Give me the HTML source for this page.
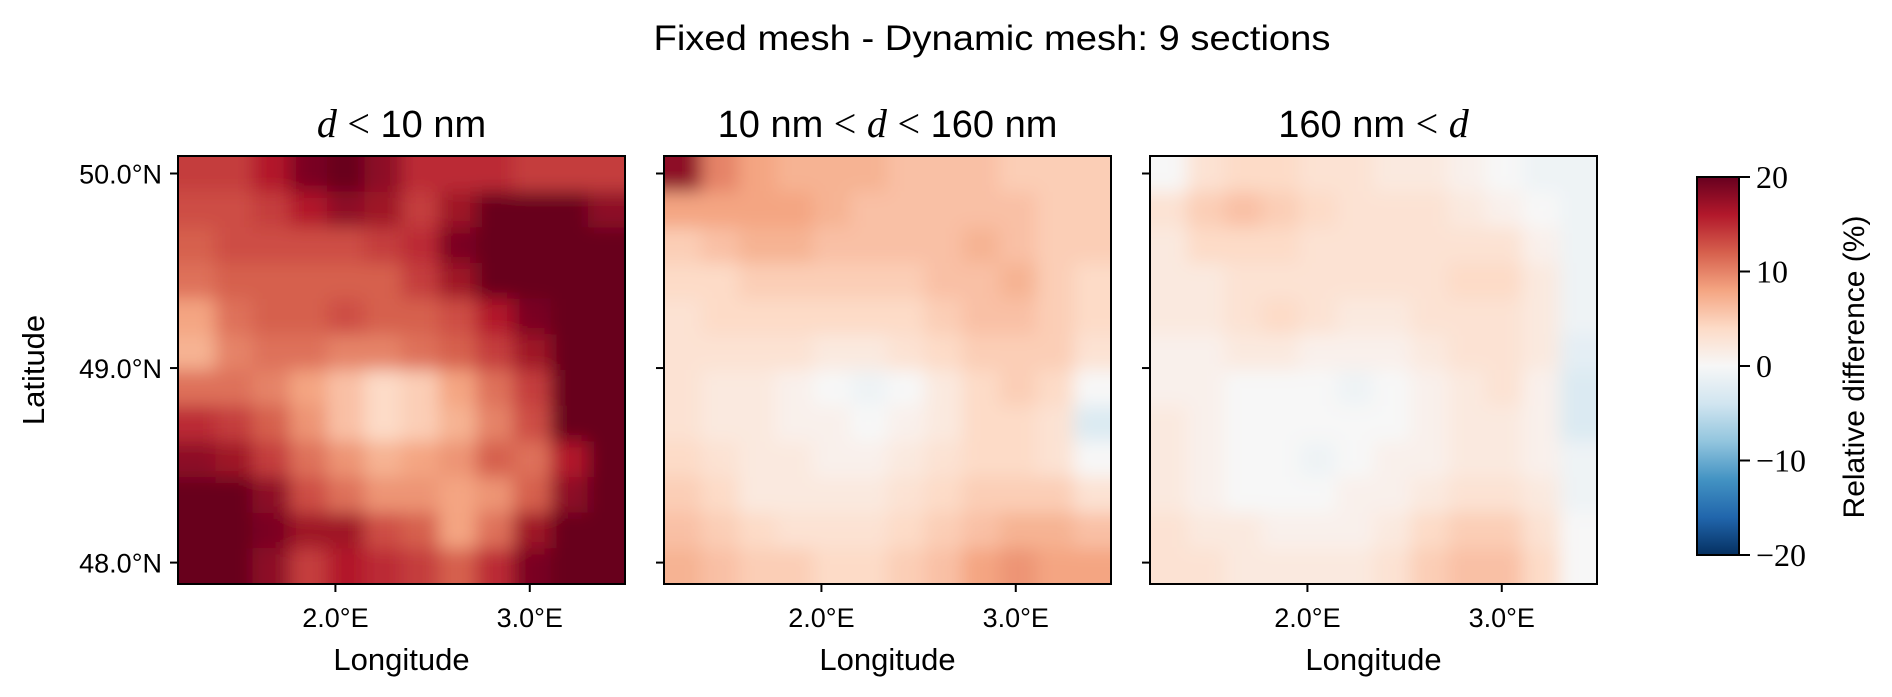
<!DOCTYPE html>
<html><head><meta charset="utf-8"><style>
html,body{margin:0;padding:0;background:#fff;}
svg{display:block;font-family:"Liberation Sans","DejaVu Sans",sans-serif;}
</style></head><body>
<svg id="fig" width="1892" height="697" viewBox="0 0 1892 697" xmlns="http://www.w3.org/2000/svg">
<defs>
<filter id="blur" x="-10%" y="-10%" width="120%" height="120%"><feGaussianBlur stdDeviation="9"/></filter>
<linearGradient id="cbgrad" x1="0" y1="1" x2="0" y2="0">
<stop offset="0" stop-color="#053061"/><stop offset="0.1" stop-color="#2166ac"/><stop offset="0.2" stop-color="#4393c3"/><stop offset="0.3" stop-color="#92c5de"/><stop offset="0.4" stop-color="#d1e5f0"/><stop offset="0.5" stop-color="#f7f7f7"/><stop offset="0.6" stop-color="#fddbc7"/><stop offset="0.7" stop-color="#f4a582"/><stop offset="0.8" stop-color="#d6604d"/><stop offset="0.9" stop-color="#b2182b"/><stop offset="1" stop-color="#67001f"/>
</linearGradient>
</defs>
<text x="992" y="50" text-anchor="middle" font-size="35" textLength="677" lengthAdjust="spacingAndGlyphs">Fixed mesh - Dynamic mesh: 9 sections</text>
<g id="panels"></g>
<g>
<rect x="1697" y="177" width="42" height="378" fill="url(#cbgrad)" stroke="#000" stroke-width="2"/>
<g id="cbticks"></g>
<text transform="translate(1864,367) rotate(-90)" text-anchor="middle" font-size="30">Relative difference (%)</text>
</g>
</svg>
<script>
const lonTicks = [2.0, 3.0];
const latTicks = [48.0, 49.0, 50.0];
const lonRange = [1.19, 3.49];
const latRange = [47.89, 50.09];
const cbTicks = [20, 10, 0, -10, -20];
const cbRange = [-20, 20];
const panelTitles = ["d < 10 nm", "10 nm < d < 160 nm", "160 nm < d"];
const gridSmall = [
[14,14,16,19,20,18,15,15,15,14,14,14],
[13,13,14,16,18,17,14,17,20,20,20,18],
[12,13,13,13,13,14,15,19,20,20,20,20],
[11,12,12,12,12,12,14,17,20,20,20,20],
[8,11,12,12,13,12,12,13,16,19,20,20],
[7,10,11,11,10,10,11,12,14,17,20,20],
[11,11,10,8,6,4,5,8,11,14,20,20],
[15,14,12,9,6,4,5,7,10,13,20,20],
[18,17,14,11,9,7,8,9,12,11,16,20],
[20,20,18,13,11,9,9,8,9,12,18,20],
[20,20,19,17,17,13,12,8,11,17,20,20],
[20,20,18,14,16,15,14,12,15,19,20,20]];
const gridMid = [
[18,10,8,7,7,7,6,6,6,5,5,5],
[8,8,8,8,7,6,6,6,6,6,5,5],
[5,6,7,7,6,6,6,6,7,6,5,5],
[4,4,5,5,5,5,5,6,6,7,5,4],
[3,4,4,4,4,4,4,5,6,6,5,4],
[3,3,3,3,2,2,3,4,5,5,5,3],
[3,2,2,1,0,-1,0,2,4,5,4,0],
[3,2,2,1,1,0,1,2,4,4,3,-3],
[4,3,2,2,1,1,2,3,4,4,3,0],
[5,4,2,2,2,2,3,4,5,5,5,3],
[6,5,4,3,3,3,4,5,6,7,7,6],
[7,6,5,5,4,4,5,6,8,9,8,8]];
const gridLarge = [
[0,3,4,4,3,3,2,2,1,0,-1,-1],
[3,5,6,5,4,3,3,3,2,1,0,-1],
[2,4,4,4,3,3,3,3,3,3,1,-1],
[2,2,3,3,3,3,3,3,4,4,2,-1],
[2,2,3,4,3,2,2,3,3,3,2,-1],
[1,1,2,2,1,1,1,2,3,3,2,-2],
[1,1,0,0,0,-1,0,1,2,3,1,-3],
[2,1,0,0,0,0,0,1,2,2,1,-3],
[2,1,0,0,-1,0,1,1,2,2,1,-1],
[2,1,0,0,0,1,1,2,3,3,2,-1],
[3,2,2,1,1,1,2,4,5,5,3,0],
[3,3,2,2,2,2,3,5,6,6,4,0]];
const grids = [gridSmall, gridMid, gridLarge];

const NS = "http://www.w3.org/2000/svg";
const stops = ["#053061","#2166ac","#4393c3","#92c5de","#d1e5f0","#f7f7f7","#fddbc7","#f4a582","#d6604d","#b2182b","#67001f"];
function hex(h){return [1,3,5].map(i=>parseInt(h.substr(i,2),16));}
function cmap(v){
  let t=(v-cbRange[0])/(cbRange[1]-cbRange[0]); t=Math.max(0,Math.min(1,t));
  const f=t*10, i=Math.min(9,Math.floor(f)), r=f-i;
  const a=hex(stops[i]), b=hex(stops[i+1]);
  return "rgb("+a.map((c,k)=>Math.round(c+(b[k]-c)*r)).join(",")+")";
}
function mk(tag, attrs, parent){const e=document.createElementNS(NS,tag);for(const k in attrs)e.setAttribute(k,attrs[k]);parent.appendChild(e);return e;}
const panelsG=document.getElementById("panels");
const PT=156, PB=584, PW=447;
const lefts=[178,664,1150];
lefts.forEach((L,p)=>{
  const xs=v=>L+(v-lonRange[0])/(lonRange[1]-lonRange[0])*PW;
  const ys=v=>PB-(v-latRange[0])/(latRange[1]-latRange[0])*(PB-PT);
  const g=mk("g",{},panelsG);
  
  
  const cp=mk("clipPath",{id:"clip"+p},g);
  mk("rect",{x:L,y:PT,width:PW,height:PB-PT},cp);
  const cg=mk("g",{"clip-path":"url(#clip"+p+")"},g);
  const hg=mk("g",{filter:"url(#blur)"},cg);
  const grid=grids[p], nr=grid.length, nc=grid[0].length;
  const cw=PW/nc, ch=(PB-PT)/nr, ext=30;
  grid.forEach((row,ri)=>row.forEach((v,ci)=>{
    let x=L+ci*cw, y=PT+ri*ch, w=cw+1, h=ch+1;
    if(ci===0){x-=ext;w+=ext;} if(ci===nc-1){w+=ext;}
    if(ri===0){y-=ext;h+=ext;} if(ri===nr-1){h+=ext;}
    const r=mk("rect",{x:x,y:y,width:w,height:h,fill:cmap(v)},hg);
    
    
  }));
  const fr=mk("rect",{x:L,y:PT,width:PW,height:PB-PT,fill:"none",stroke:"#000","stroke-width":2},g);
  
  
  const t=mk("text",{x:L+PW/2,y:137,"text-anchor":"middle","font-size":38},g);
  
  
  panelTitles[p].split(/(d|<)/).forEach(s=>{
    if(!s)return;
    const sp=mk("tspan",{},t);
    if(s==="d"){sp.setAttribute("font-family","Liberation Serif, serif");sp.setAttribute("font-style","italic");sp.setAttribute("font-size","40");}
    if(s==="<"){sp.setAttribute("font-family","Liberation Serif, serif");sp.setAttribute("font-size","40");}
    sp.textContent=s;
  });
  lonTicks.forEach(v=>{
    const x=xs(v);
    mk("line",{x1:x,x2:x,y1:PB,y2:PB+8,stroke:"#000","stroke-width":2},g);
    const tl=mk("text",{x:x,y:627,"text-anchor":"middle","font-size":27},g);
    
    
    tl.textContent=v.toFixed(1)+"°E";
  });
  latTicks.forEach(v=>{
    const y=ys(v);
    mk("line",{x1:L-8,x2:L,y1:y,y2:y,stroke:"#000","stroke-width":2},g);
    if(p===0){
      const tl=mk("text",{x:L-16,y:y+10,"text-anchor":"end","font-size":27},g);
      
      
      tl.textContent=v.toFixed(1)+"°N";
    }
  });
  const xl=mk("text",{x:L+PW/2,y:670,"text-anchor":"middle","font-size":31},g);
  
  
  xl.textContent="Longitude";
  if(p===0){
    const yl=mk("text",{transform:"translate(44,370) rotate(-90)","text-anchor":"middle","font-size":31},g);
    
    
    yl.textContent="Latitude";
  }
});
const cbg=document.getElementById("cbticks");
const CT=177, CB=555;
cbTicks.forEach(v=>{
  const y=CB-(v-cbRange[0])/(cbRange[1]-cbRange[0])*(CB-CT);
  mk("line",{x1:1739,x2:1750,y1:y,y2:y,stroke:"#000","stroke-width":2},cbg);
  const tl=mk("text",{x:1756,y:y+11,"font-size":32,"font-family":"Liberation Serif, serif"},cbg);
  
  
  tl.textContent=v<0?"\u2212"+Math.abs(v):String(v);
});
</script>
</body></html>
